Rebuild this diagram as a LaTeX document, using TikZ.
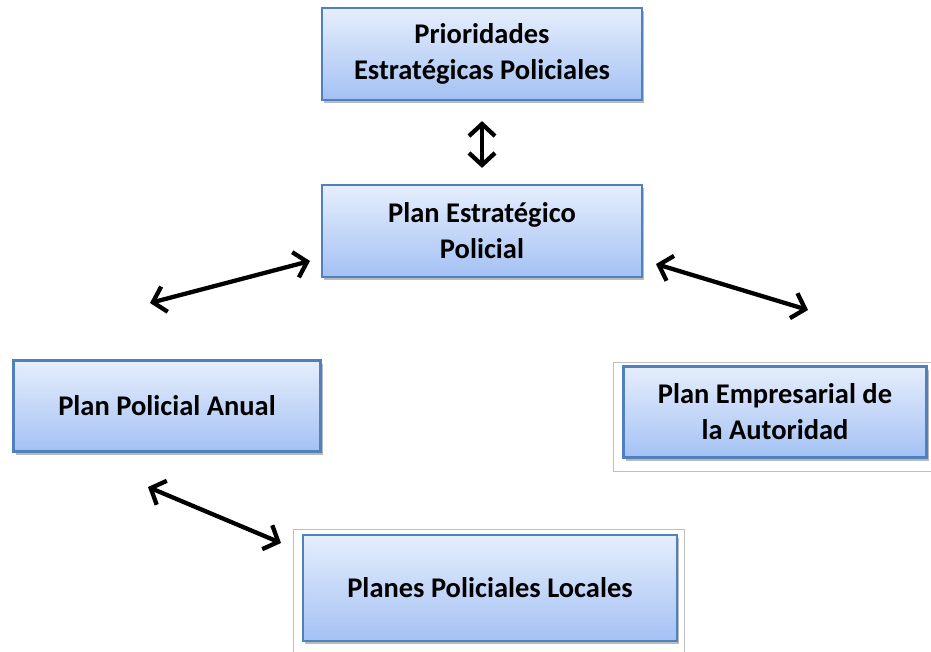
\documentclass[tikz,border=0pt]{standalone}
\usepackage{fontspec}
\setmainfont{Carlito}
\usetikzlibrary{arrows.meta,shadows}
\definecolor{boxline}{HTML}{4F81BD}
\definecolor{boxtop}{HTML}{E6EEFC}
\definecolor{boxbottom}{HTML}{A4C1F4}
\tikzset{
	planbox/.style={draw=boxline, line width=2.2pt, top color=boxtop, bottom color=boxbottom,
		align=center, font=\bfseries\fontsize{28.5}{36}\selectfont, inner sep=0pt,
		drop shadow={shadow xshift=2pt, shadow yshift=-3pt, opacity=0.45, fill=black!60}},
	link/.style={line width=4.3pt, line cap=round, {Straight Barb[length=12pt,width=26pt,line width=4.3pt]}-{Straight Barb[length=12pt,width=26pt,line width=4.3pt]}},
	frame/.style={draw=black!25, line width=0.8pt}
}
\begin{document}
\begin{tikzpicture}[x=1pt,y=-1pt]
	\useasboundingbox (0,0) rectangle (931,652);
	% thin frames round the pasted boxes
	\draw[frame] (931,362) -- (613,362) -- (613,471) -- (931,471);
	\draw[frame] (293,652) -- (293,529) -- (684,529) -- (684,652);
	\node (PEP) at (482,54)  [planbox, minimum width=320pt, minimum height=92pt]  {Prioridades\\Estratégicas Policiales};
	\node (PES) at (482,231) [planbox, minimum width=320pt, minimum height=92pt]  {Plan Estratégico\\Policial};
	\node (PPA) at (167,406) [planbox, minimum width=307pt, minimum height=91pt]  {Plan Policial Anual};
	\node (PEA) at (775,412) [planbox, minimum width=303pt, minimum height=91pt]  {Plan Empresarial de\\la Autoridad};
	\node (PPL) at (490,588) [planbox, minimum width=374pt, minimum height=106pt] {Planes Policiales Locales};
	\coordinate (a1) at (150,303);
	\coordinate (a2) at (310,261);
	\coordinate (b1) at (656,264);
	\coordinate (b2) at (808,310);
	\coordinate (c1) at (148,487);
	\coordinate (c2) at (281,543);
	\draw[link] ([yshift=-20pt]PEP.south) -- ([yshift=16pt]PES.north);
	\draw[link] (a1) -- (a2);
	\draw[link] (b1) -- (b2);
	\draw[link] (c1) -- (c2);
\end{tikzpicture}
\end{document}
